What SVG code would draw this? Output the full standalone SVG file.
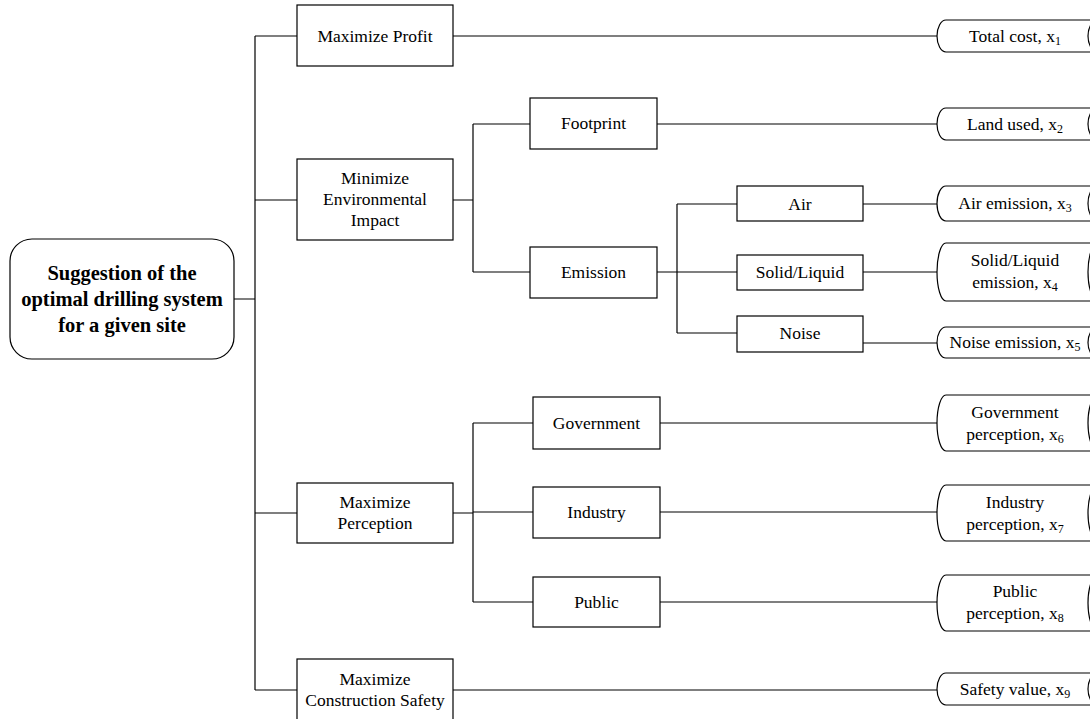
<svg xmlns="http://www.w3.org/2000/svg" width="1090" height="719" viewBox="0 0 1090 719">
<style>
.box{fill:#fff;stroke:#000;stroke-width:1.2}
.ln{fill:none;stroke:#000;stroke-width:1.2}
text{font-family:"Liberation Serif","Times New Roman",serif;font-size:17.5px;fill:#000;text-anchor:middle}
.root{font-weight:bold;font-size:20.5px}
.sub{font-size:12px}
</style>
<rect width="1090" height="719" fill="#fff"/>
<g id="connectors">
<path class="ln" d="M234 299H255M255 36V690M255 36H297M255 200H297M255 513H297M255 690H297"/>
<path class="ln" d="M453 200H473M473 124V272M473 124H530M473 272H530"/>
<path class="ln" d="M657 272H677M677 204V333M677 204H737M677 272H737M677 333H737"/>
<path class="ln" d="M453 513H473M473 423V602M473 423H533M473 512H533M473 602H533"/>
<path class="ln" d="M453 36H937M657 124H937M863 204H937M863 272H937M863 343H937M660 423H937M660 512H937M660 602H937M453 690H937"/>
</g>
<g id="root">
<rect class="box" x="10" y="239" width="224" height="120" rx="22"/>
<text class="root" x="122" y="280">Suggestion of the</text>
<text class="root" x="122" y="306">optimal drilling system</text>
<text class="root" x="122" y="332">for a given site</text>
</g>
<g id="maxProfit"><rect class="box" x="297" y="5" width="156" height="61"/><text x="375" y="42">Maximize Profit</text></g>
<g id="minEnv"><rect class="box" x="297" y="159" width="156" height="81"/><text x="375" y="184">Minimize</text><text x="375" y="205">Environmental</text><text x="375" y="226">Impact</text></g>
<g id="maxPerc"><rect class="box" x="297" y="483" width="156" height="60"/><text x="375" y="508">Maximize</text><text x="375" y="529">Perception</text></g>
<g id="maxSafety"><rect class="box" x="297" y="659" width="156" height="62"/><text x="375" y="685">Maximize</text><text x="375" y="706">Construction Safety</text></g>
<g id="footprint"><rect class="box" x="530" y="98" width="127" height="51"/><text x="593.5" y="129">Footprint</text></g>
<g id="emission"><rect class="box" x="530" y="247" width="127" height="51"/><text x="593.5" y="278">Emission</text></g>
<g id="air"><rect class="box" x="737" y="186" width="126" height="35"/><text x="800" y="210">Air</text></g>
<g id="solid"><rect class="box" x="737" y="255" width="126" height="35"/><text x="800" y="278">Solid/Liquid</text></g>
<g id="noise"><rect class="box" x="737" y="316" width="126" height="36"/><text x="800" y="339">Noise</text></g>
<g id="gov"><rect class="box" x="533" y="397" width="127" height="52"/><text x="596.5" y="429">Government</text></g>
<g id="ind"><rect class="box" x="533" y="487" width="127" height="51"/><text x="596.5" y="518">Industry</text></g>
<g id="pub"><rect class="box" x="533" y="577" width="127" height="50"/><text x="596.5" y="608">Public</text></g>
<g id="x1"><path class="box" d="M946 20H1098A10 16 0 0 0 1098 52H946A9 16 0 0 1 946 20Z"/><text x="1015" y="42">Total cost, x<tspan class="sub" dy="3">1</tspan></text></g>
<g id="x2"><path class="box" d="M946 108H1098A10 16 0 0 0 1098 140H946A9 16 0 0 1 946 108Z"/><text x="1015" y="130">Land used, x<tspan class="sub" dy="3">2</tspan></text></g>
<g id="x3"><path class="box" d="M946 186H1098A10 17.5 0 0 0 1098 221H946A9 17.5 0 0 1 946 186Z"/><text x="1015" y="209">Air emission, x<tspan class="sub" dy="3">3</tspan></text></g>
<g id="x4"><path class="box" d="M946 243H1098A10 29 0 0 0 1098 301H946A9 29 0 0 1 946 243Z"/><text x="1015" y="266">Solid/Liquid</text><text x="1015" y="288">emission, x<tspan class="sub" dy="3">4</tspan></text></g>
<g id="x5"><path class="box" d="M946 327H1098A10 15.5 0 0 0 1098 358H946A9 15.5 0 0 1 946 327Z"/><text x="1015" y="348">Noise emission, x<tspan class="sub" dy="3">5</tspan></text></g>
<g id="x6"><path class="box" d="M946 395H1098A10 28 0 0 0 1098 451H946A9 28 0 0 1 946 395Z"/><text x="1015" y="418">Government</text><text x="1015" y="440">perception, x<tspan class="sub" dy="3">6</tspan></text></g>
<g id="x7"><path class="box" d="M946 485H1098A10 28 0 0 0 1098 541H946A9 28 0 0 1 946 485Z"/><text x="1015" y="508">Industry</text><text x="1015" y="530">perception, x<tspan class="sub" dy="3">7</tspan></text></g>
<g id="x8"><path class="box" d="M946 575H1098A10 28 0 0 0 1098 631H946A9 28 0 0 1 946 575Z"/><text x="1015" y="597">Public</text><text x="1015" y="619">perception, x<tspan class="sub" dy="3">8</tspan></text></g>
<g id="x9"><path class="box" d="M946 673H1098A10 16 0 0 0 1098 705H946A9 16 0 0 1 946 673Z"/><text x="1015" y="695">Safety value, x<tspan class="sub" dy="3">9</tspan></text></g>
</svg>
